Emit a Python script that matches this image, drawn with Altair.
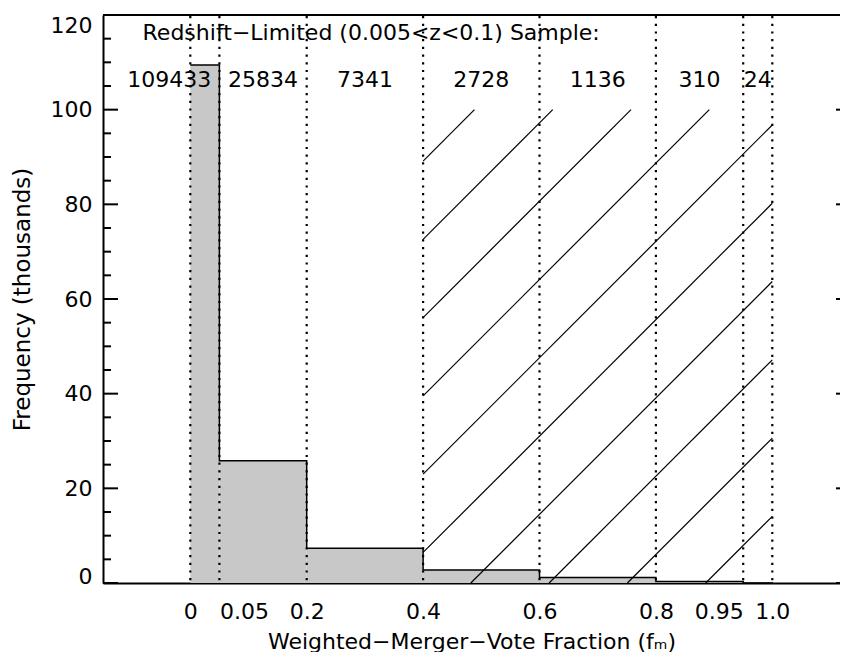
import altair as alt
import pandas as pd

# ---------------- data ----------------
bin_edges = [0.0, 0.05, 0.2, 0.4, 0.6, 0.8, 0.95, 1.0]
counts = [109433, 25834, 7341, 2728, 1136, 310, 24]
count_label_x = [-0.036, 0.125, 0.3, 0.5, 0.7, 0.875, 0.975]
x_tick_values = [0.0, 0.05, 0.2, 0.4, 0.6, 0.8, 0.95, 1.0]
x_tick_labels = ["0", "0.05", "0.2", "0.4", "0.6", "0.8", "0.95", "1.0"]
y_major = [0, 20, 40, 60, 80, 100, 120]
y_minor = [v for v in range(5, 120, 5) if v % 20 != 0]
sample_title = "Redshift\u2212Limited (0.005<z<0.1) Sample:"

# ---------------- layout ----------------
W, H = 737, 568
X_DOMAIN = [-0.15, -0.15 + W / 582.0]
Y_DOMAIN = [0, 120]
FONT = "DejaVu Sans"
FS = 22
hatch_x = [0.4, 1.0]
hatch_y = [0.0, 100.0]
hatch_origin = -0.325
hatch_step = 0.1345

px_per_x = W / (X_DOMAIN[1] - X_DOMAIN[0])
px_per_y = H / (Y_DOMAIN[1] - Y_DOMAIN[0])
slope = px_per_x / px_per_y  # 45 degrees on screen

# histogram tables
bars = pd.DataFrame({
    "lo": bin_edges[:-1],
    "hi": bin_edges[1:],
    "base": [0.0] * len(counts),
    "freq": [c / 1000 for c in counts],
})
step = pd.DataFrame({"x": bin_edges, "y": [c / 1000 for c in counts] + [0.0]})
edges_df = pd.DataFrame({"x": x_tick_values})
labels_df = pd.DataFrame({"x": count_label_x, "y": [106.3] * len(counts),
                          "t": [str(c) for c in counts]})
title_df = pd.DataFrame({"x": [-0.082], "y": [116.3], "t": [sample_title]})

# hatch segments clipped to the region
segs = []
n = 0
while True:
    x0 = hatch_origin + hatch_step * n
    if x0 > hatch_x[1]:
        break
    xs = max(hatch_x[0], x0)
    xe = min(hatch_x[1], x0 + hatch_y[1] / slope)
    if xs < xe:
        segs.append({"x": xs, "y": slope * (xs - x0),
                     "x2": xe, "y2": slope * (xe - x0)})
    n += 1
hatch = pd.DataFrame(segs)

label_map = "{" + ",".join(f"'{v:g}':'{l}'" for v, l in zip(x_tick_values, x_tick_labels)) + "}"

axis_x = alt.Axis(values=x_tick_values, labelExpr=f"{label_map}[toString(datum.value)]",
                  ticks=False, grid=False, domain=True, domainColor="black", domainWidth=2,
                  labelFont=FONT, labelFontSize=FS, labelColor="black", labelPadding=18,
                  labelOverlap=False, labelFlush=False,
                  labelAlign={"condition": [
                      {"test": "datum.value == 0.05", "value": "left"},
                      {"test": "datum.value == 0.95", "value": "right"}],
                      "value": "center"},
                  title="Weighted\u2212Merger\u2212Vote Fraction (f\u2098)",
                  titleFont=FONT, titleFontSize=FS, titleFontWeight="normal",
                  titleColor="black", titlePadding=9)
axis_y = alt.Axis(values=y_major, ticks=False, grid=False, domain=True, domainColor="black",
                  domainWidth=2, labelFont=FONT, labelFontSize=FS, labelColor="black",
                  labelPadding=11, labelFlush=False,
                  labelBaseline={"condition": [
                      {"test": "datum.value == 0", "value": "alphabetic"},
                      {"test": "datum.value == 120", "value": "top"}],
                      "value": "middle"},
                  title="Frequency (thousands)", titleFont=FONT, titleFontSize=23,
                  titleFontWeight="normal", titleColor="black", titlePadding=16)

xs_ = alt.Scale(domain=X_DOMAIN, nice=False, zero=False)
ys_ = alt.Scale(domain=Y_DOMAIN, nice=False, zero=False)


def X(f):
    return alt.X(f, type="quantitative", scale=xs_, axis=axis_x)


def Y(f):
    return alt.Y(f, type="quantitative", scale=ys_, axis=axis_y)


bar_layer = alt.Chart(bars).mark_rect(color="#c8c8c8").encode(
    x=X("lo"), x2="hi", y=Y("base"), y2="freq")

step_layer = alt.Chart(step).mark_line(interpolate="step-after", color="black",
                                       strokeWidth=1.5, clip=True).encode(x=X("x"), y=Y("y"))

dots_layer = alt.Chart(edges_df).mark_rule(color="black", strokeWidth=2.2,
                                           strokeDash=[2.2, 5.5]).encode(
    x=X("x"), y=alt.value(1), y2=alt.value(H))

hatch_layer = alt.Chart(hatch).mark_rule(color="black", strokeWidth=1.2).encode(
    x=X("x"), y=Y("y"), x2="x2", y2="y2")

major_df = pd.DataFrame({"y": y_major})
minor_df = pd.DataFrame({"y": y_minor})
left_major = alt.Chart(major_df).mark_rule(color="black", strokeWidth=2).encode(
    y=Y("y"), x=alt.value(0), x2=alt.value(15))
left_minor = alt.Chart(minor_df).mark_rule(color="black", strokeWidth=2).encode(
    y=Y("y"), x=alt.value(0), x2=alt.value(8))
right_major = alt.Chart(major_df).mark_rule(color="black", strokeWidth=2).encode(
    y=Y("y"), x=alt.value(W - 4), x2=alt.value(W))

top_line = alt.Chart(major_df.head(1)).mark_rule(color="black", strokeWidth=2).encode(
    x=alt.value(0), x2=alt.value(W), y=alt.value(0))

count_text = alt.Chart(labels_df).mark_text(font=FONT, fontSize=FS, color="black",
                                            align="center", baseline="middle").encode(
    x=X("x"), y=Y("y"), text="t:N")
title_text = alt.Chart(title_df).mark_text(font=FONT, fontSize=FS, color="black",
                                           align="left", baseline="middle").encode(
    x=X("x"), y=Y("y"), text="t:N")

chart = alt.layer(
    bar_layer, step_layer, dots_layer, hatch_layer, left_major, left_minor,
    right_major, top_line, count_text, title_text
).properties(
    width=W, height=H,
    autosize=alt.AutoSizeParams(type="none"),
    padding={"left": 95, "right": 0, "top": 7, "bottom": 72},
    background="white",
).configure_view(stroke=None)

chart.save("out.html", embed_options={"renderer": "svg", "actions": False})
